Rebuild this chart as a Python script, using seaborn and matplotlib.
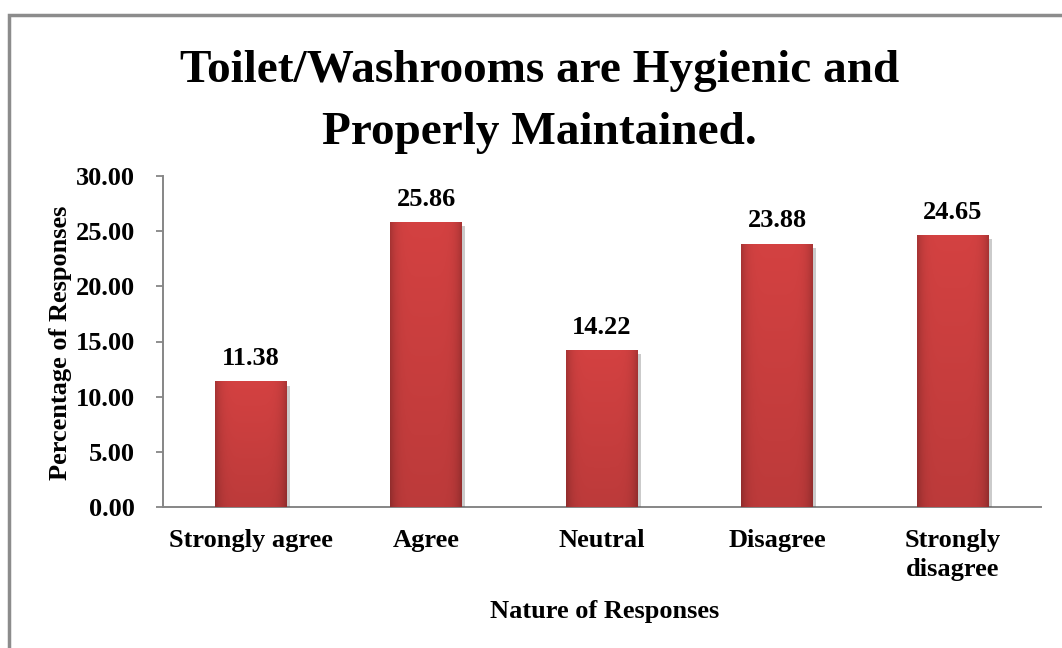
import numpy as np
import pandas as pd
import matplotlib
matplotlib.use("Agg")
import matplotlib.pyplot as plt
import matplotlib.patheffects as pe
from matplotlib.patches import Rectangle
import seaborn as sns

# chart data
categories = ["Strongly agree", "Agree", "Neutral", "Disagree", "Strongly\ndisagree"]
percentages = [11.38, 25.86, 14.22, 23.88, 24.65]
y_ticks = [0, 5, 10, 15, 20, 25, 30]

df = pd.DataFrame({"Response": categories, "Percent": percentages})

sns.set_style("white")
plt.rcParams["font.family"] = ["Liberation Serif", "DejaVu Serif"]
plt.rcParams["font.weight"] = "bold"
plt.rcParams["text.color"] = "black"
plt.rcParams["axes.labelcolor"] = "black"
plt.rcParams["xtick.color"] = "black"
plt.rcParams["ytick.color"] = "black"

fig = plt.figure(figsize=(10.62, 6.48), dpi=100)
ax = fig.add_axes([163 / 1062, 1 - 507 / 648, (1040.5 - 163) / 1062, (507 - 176) / 648])

bar_color = "#C03A3A"
sns.barplot(data=df, x="Response", y="Percent", color=bar_color, width=0.41,
            saturation=1, ax=ax, zorder=3)

# bevel-ish gradient on each bar (darker edges, lighter towards the top)
nx, ny = 60, 200
xs = np.linspace(-1, 1, nx)
ys = np.linspace(0, 1, ny)
X, Y = np.meshgrid(xs, ys)
shade = 0.97 - 0.22 * np.abs(X) ** 6 + 0.12 * Y
base = np.array(matplotlib.colors.to_rgb("#C23C3C"))
img = np.clip(base[None, None, :] * shade[:, :, None], 0, 1)
for bar in ax.patches:
    bar.set_edgecolor("none")
    bar.set_path_effects([pe.SimplePatchShadow(offset=(2, -3), alpha=0.3, shadow_rgbFace="#555555"),
                          pe.Normal()])
    x0, w, h = bar.get_x(), bar.get_width(), bar.get_height()
    im = ax.imshow(img, extent=[x0, x0 + w, 0, h], origin="lower", aspect="auto",
                   zorder=4, interpolation="bilinear")
    im.set_clip_path(bar)

for i, v in enumerate(percentages):
    ax.annotate(f"{v:.2f}", (i, v), xytext=(0, 8), textcoords="offset points",
                ha="center", va="bottom", fontsize=19, fontweight="bold", zorder=5)

ax.set_xlim(-0.5, 4.5)
ax.set_ylim(0, 30)
ax.set_yticks(y_ticks)
ax.set_yticklabels([f"{t:.2f}" for t in y_ticks])
ax.tick_params(axis="y", length=5, width=1.3, color="#868686", pad=15, labelsize=19, left=True)
ax.tick_params(axis="x", length=0, pad=16, labelsize=19)
for lab in ax.get_xticklabels():
    lab.set_fontweight("bold")
    lab.set_linespacing(1.3)
for lab in ax.get_yticklabels():
    lab.set_fontweight("bold")

sns.despine(ax=ax)
for s in ["left", "bottom"]:
    ax.spines[s].set_color("#868686")
    ax.spines[s].set_linewidth(1.4)

ax.set_xlabel("Nature of Responses", fontsize=19, fontweight="bold")
ax.set_ylabel("Percentage of Responses", fontsize=19, fontweight="bold")
ax.xaxis.set_label_coords(0.503, -0.28)
ax.yaxis.set_label_coords(-0.104, 0.495)

fig.text(0.508, 0.843, "Toilet/Washrooms are Hygienic and\nProperly Maintained.",
         ha="center", va="center", fontsize=34, fontweight="bold", linespacing=1.62)

fig.patches.append(Rectangle((8.5 / 1062, -0.2), 1.5, 1.2 - 14.5 / 648,
                             transform=fig.transFigure, fill=False,
                             edgecolor="#8C8C8C", linewidth=2.5))

fig.savefig("out.png", dpi=100, facecolor="white")
